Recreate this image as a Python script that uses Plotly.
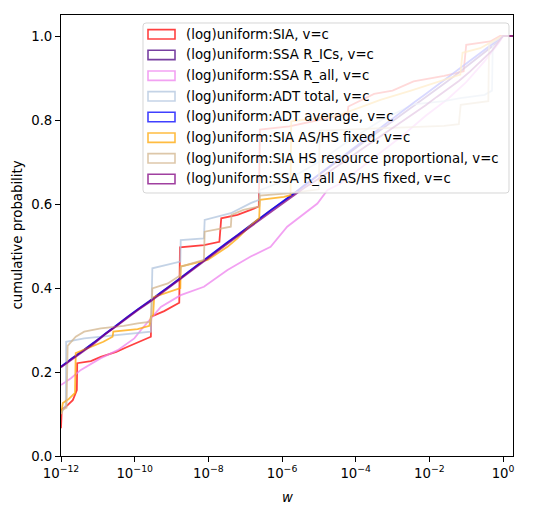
import plotly.graph_objects as go

# ---------------- data (log10 w, cumulative probability) ----------------
series_names = [
    "(log)uniform:SIA, v=c",
    "(log)uniform:SSA R_ICs, v=c",
    "(log)uniform:SSA R_all, v=c",
    "(log)uniform:ADT total, v=c",
    "(log)uniform:ADT average, v=c",
    "(log)uniform:SIA AS/HS fixed, v=c",
    "(log)uniform:SIA HS resource proportional, v=c",
    "(log)uniform:SSA R_all AS/HS fixed, v=c",
]
series_colors = ["#FF0000", "#4B0082", "#EE82EE", "#B0C4DE",
                 "#0000FF", "#FFA500", "#D2B48C", "#800080"]

sia_logw = [-12.0, -11.98, -11.82, -11.68, -11.6, -11.57, -11.56, -11.19, -10.92, -10.5, -10.19,
            -9.85, -9.56, -9.55, -9.2, -8.79, -8.77, -8.12, -7.7, -7.65, -7.21, -6.85, -6.63,
            -6.6, -5.8, -5.0, -4.4, -4.22, -4.2, -3.5, -3.0, -2.43, -1.6, -1.07, -1.0, -0.35,
            -0.08, 0.35]
sia_cdf = [0.066, 0.11, 0.121, 0.133, 0.15, 0.157, 0.221, 0.226, 0.236, 0.248, 0.26,
           0.272, 0.284, 0.332, 0.345, 0.365, 0.497, 0.502, 0.51, 0.566, 0.574, 0.586, 0.594,
           0.777, 0.785, 0.80, 0.812, 0.815, 0.832, 0.862, 0.87, 0.892, 0.905, 0.916, 0.979, 0.987,
           1.0, 1.0]

ssa_rics_logw = [-12.0, -11.7, -11.4, -11.1, -10.8, -10.5, -10.2, -9.9, -9.6, -9.3, -9.0, -8.7,
                 -8.4, -8.1, -7.8, -7.5, -7.2, -6.9, -6.6, -6.3, -6.0, -5.7, -5.4, -5.1, -4.8,
                 -4.5, -4.2, -3.9, -3.6, -3.3, -3.0, -2.7, -2.4, -2.1, -1.8, -1.5, -1.2, -0.9,
                 -0.6, -0.3, 0.0, 0.35]
ssa_rics_cdf = [0.212, 0.233, 0.251, 0.27, 0.29, 0.31, 0.331, 0.349, 0.369, 0.388, 0.408, 0.428,
                0.448, 0.468, 0.487, 0.507, 0.527, 0.547, 0.566, 0.586, 0.604, 0.624, 0.643, 0.663,
                0.682, 0.701, 0.72, 0.739, 0.758, 0.777, 0.796, 0.815, 0.835, 0.854, 0.874, 0.893,
                0.913, 0.933, 0.954, 0.975, 1.0, 1.0]

ssa_rall_logw = [-12.0, -11.73, -11.46, -10.92, -10.46, -10.01, -9.83, -9.29, -8.75, -8.12, -7.48,
                 -6.85, -6.31, -5.86, -5.04, -4.77, -4.41, -3.8, -3.3, -2.7, -2.1, -1.5, -1.0,
                 -0.5, -0.1, 0.0, 0.35]
ssa_rall_cdf = [0.169, 0.185, 0.205, 0.233, 0.252, 0.28, 0.30, 0.355, 0.383, 0.403, 0.443,
                0.475, 0.498, 0.546, 0.601, 0.633, 0.649, 0.69, 0.725, 0.765, 0.81, 0.85, 0.89,
                0.94, 0.985, 1.0, 1.0]

adt_total_logw = [-12.0, -11.95, -11.87, -11.86, -11.37, -10.46, -9.92, -9.56, -9.52, -8.79, -8.76,
                  -8.75, -8.12, -8.1, -7.39, -6.85, -6.62, -6.6, -5.8, -5.0, -4.2, -3.3, -2.43,
                  -1.6, -1.16, -0.5, -0.3, -0.28, 0.0, 0.35]
adt_total_cdf = [0.10, 0.11, 0.12, 0.272, 0.28, 0.288, 0.292, 0.296, 0.447, 0.463, 0.463,
                 0.514, 0.518, 0.562, 0.578, 0.602, 0.61, 0.633, 0.66, 0.70, 0.75, 0.80, 0.837,
                 0.845, 0.852, 0.86, 0.87, 0.98, 1.0, 1.0]

adt_avg_logw = [-12.0, -11.7, -11.4, -11.1, -10.8, -10.5, -10.2, -9.9, -9.6, -9.3, -9.0, -8.7,
                -8.4, -8.1, -7.8, -7.5, -7.2, -6.9, -6.6, -6.3, -6.0, -5.7, -5.4, -5.1, -4.8,
                -4.5, -4.2, -3.9, -3.6, -3.3, -3.0, -2.7, -2.4, -2.1, -1.8, -1.5, -1.2, -0.9,
                -0.6, -0.3, 0.0, 0.35]
adt_avg_cdf = [0.213, 0.232, 0.25, 0.27, 0.291, 0.311, 0.33, 0.35, 0.368, 0.389, 0.407, 0.427,
               0.449, 0.467, 0.488, 0.508, 0.526, 0.546, 0.565, 0.585, 0.605, 0.623, 0.645, 0.664,
               0.684, 0.703, 0.725, 0.744, 0.764, 0.784, 0.803, 0.823, 0.843, 0.862, 0.882, 0.902,
               0.921, 0.941, 0.961, 0.98, 1.0, 1.0]

sia_fixed_logw = [-12.0, -11.95, -11.8, -11.62, -11.6, -11.4, -11.1, -10.85, -10.6, -10.58, -9.92,
                  -9.6, -9.56, -9.5, -9.47, -8.76, -8.75, -8.3, -8.02, -7.48, -7.21, -6.9, -6.62,
                  -6.6, -5.95, -5.77, -5.75, -4.5, -3.33, -2.5, -1.6, -1.16, -1.1, -0.62, -0.13,
                  0.0, 0.35]
sia_fixed_cdf = [0.10, 0.126, 0.135, 0.15, 0.245, 0.252, 0.262, 0.272, 0.284, 0.296, 0.302,
                 0.31, 0.332, 0.335, 0.379, 0.40, 0.451, 0.46, 0.467, 0.498, 0.518, 0.545, 0.566,
                 0.61, 0.617, 0.621, 0.797, 0.81, 0.848, 0.87, 0.895, 0.908, 0.96, 0.971, 0.995,
                 1.0, 1.0]

sia_prop_logw = [-12.0, -11.95, -11.85, -11.82, -11.6, -11.37, -10.92, -10.3, -9.92, -9.56, -9.52,
                 -9.1, -8.77, -8.75, -8.4, -8.12, -8.1, -7.39, -7.37, -7.05, -6.62, -6.6, -5.77,
                 -5.4, -5.0, -4.98, -3.33, -1.6, -1.2, -1.15, -0.4, -0.38, 0.0, 0.35]
sia_prop_cdf = [0.10, 0.11, 0.115, 0.262, 0.284, 0.296, 0.304, 0.31, 0.316, 0.32, 0.399,
                0.411, 0.43, 0.451, 0.46, 0.467, 0.534, 0.546, 0.574, 0.586, 0.594, 0.62, 0.626,
                0.63, 0.635, 0.775, 0.781, 0.786, 0.79, 0.836, 0.845, 0.98, 1.0, 1.0]

ssa_rall_fixed_logw = [-12.0, -11.7, -11.4, -11.1, -10.8, -10.5, -10.2, -9.9, -9.6, -9.3, -9.0,
                       -8.7, -8.4, -8.1, -7.8, -7.5, -7.2, -6.9, -6.6, -6.3, -6.0, -5.7, -5.4,
                       -5.1, -4.8, -4.5, -4.2, -3.9, -3.6, -3.3, -3.0, -2.7, -2.4, -2.1, -1.8,
                       -1.5, -1.2, -0.9, -0.6, -0.3, -0.05, 0.0, 0.35]
ssa_rall_fixed_cdf = [0.211, 0.231, 0.249, 0.268, 0.29, 0.309, 0.329, 0.348, 0.366, 0.386, 0.405,
                      0.425, 0.446, 0.465, 0.486, 0.505, 0.524, 0.543, 0.562, 0.582, 0.6, 0.618,
                      0.638, 0.655, 0.672, 0.69, 0.708, 0.727, 0.745, 0.762, 0.78, 0.798, 0.816,
                      0.835, 0.855, 0.873, 0.893, 0.915, 0.94, 0.965, 0.995, 1.0, 1.0]

series_logw = [sia_logw, ssa_rics_logw, ssa_rall_logw, adt_total_logw,
               adt_avg_logw, sia_fixed_logw, sia_prop_logw, ssa_rall_fixed_logw]
series_cdf = [sia_cdf, ssa_rics_cdf, ssa_rall_cdf, adt_total_cdf,
              adt_avg_cdf, sia_fixed_cdf, sia_prop_cdf, ssa_rall_fixed_cdf]

x_tick_exponents = [-12, -10, -8, -6, -4, -2, 0]
y_tick_values = [0.0, 0.2, 0.4, 0.6, 0.8, 1.0]

# ---------------- layout geometry (screen pixels) ----------------
WIN_W, WIN_H = 534, 520
OFF = 8                       # default page body margin
W, H = WIN_W - OFF, WIN_H - OFF
L, R, T, B = 61, 513, 15, 456  # plot area in screen pixels
FONT = "DejaVu Sans"
FS = 13.3
ALPHA = 0.75


def px(xp):
    return (xp - L) / (R - L)


def py(yp):
    return (B - yp) / (B - T)


def rgba(hexc, a):
    hexc = hexc.lstrip("#")
    r, g, b = int(hexc[0:2], 16), int(hexc[2:4], 16), int(hexc[4:6], 16)
    return f"rgba({r},{g},{b},{a})"


fig = go.Figure()
for name, color, lw, cd in zip(series_names, series_colors, series_logw, series_cdf):
    fig.add_trace(go.Scatter(
        x=[10 ** v for v in lw], y=cd, mode="lines", name=name,
        line=dict(color=rgba(color, ALPHA), width=1.8),
        showlegend=False, hoverinfo="skip"))

# ---------------- manual matplotlib-like legend ----------------
shapes = []
annotations = []
bx0, bx1, by0, by1, rad = 143, 509, 23, 193, 3
rx, ry = rad / (R - L), rad / (B - T)
X0, X1, Y0, Y1 = px(bx0), px(bx1), py(by1), py(by0)
path = (f"M{X0+rx},{Y1} L{X1-rx},{Y1} Q{X1},{Y1} {X1},{Y1-ry} "
        f"L{X1},{Y0+ry} Q{X1},{Y0} {X1-rx},{Y0} L{X0+rx},{Y0} "
        f"Q{X0},{Y0} {X0},{Y0+ry} L{X0},{Y1-ry} Q{X0},{Y1} {X0+rx},{Y1} Z")
shapes.append(dict(type="path", xref="paper", yref="paper", path=path,
                   fillcolor="rgba(255,255,255,0.8)",
                   line=dict(color="rgba(204,204,204,0.8)", width=1), layer="above"))
row0, dy = 34.3, 20.67
for i, (name, color) in enumerate(zip(series_names, series_colors)):
    cy = row0 + i * dy
    shapes.append(dict(type="rect", xref="paper", yref="paper",
                       x0=px(148), x1=px(175), y0=py(cy + 4.7), y1=py(cy - 4.7),
                       line=dict(color=rgba(color, ALPHA), width=1.6),
                       fillcolor="rgba(0,0,0,0)", layer="above"))
    annotations.append(dict(text=name, xref="paper", yref="paper", x=px(184), y=py(cy),
                            xanchor="left", yanchor="middle", showarrow=False,
                            font=dict(family=FONT, size=FS, color="black")))

# axis titles
annotations.append(dict(text="cumulative probability", xref="paper", yref="paper",
                        x=px(17), y=py((T + B) / 2), textangle=-90, showarrow=False,
                        xanchor="center", yanchor="middle",
                        font=dict(family=FONT, size=FS, color="black")))
annotations.append(dict(text="<i>w</i>", xref="paper", yref="paper",
                        x=px((L + R) / 2), y=py(497), showarrow=False,
                        xanchor="center", yanchor="middle",
                        font=dict(family=FONT, size=FS, color="black")))

fig.update_layout(
    width=W, height=H,
    margin=dict(l=L - OFF, r=W - (R - OFF), t=T - OFF, b=H - (B - OFF), pad=0),
    paper_bgcolor="white", plot_bgcolor="white",
    font=dict(family=FONT, size=FS, color="black"),
    shapes=shapes, annotations=annotations, showlegend=False,
)
fig.update_xaxes(
    type="log", range=[-12, 0.27], showgrid=False, zeroline=False,
    showline=True, linecolor="black", linewidth=1, mirror=True,
    ticks="outside", ticklen=5, tickwidth=1, tickcolor="black",
    tickvals=[10 ** e for e in x_tick_exponents],
    ticktext=[f"10<sup>{'−' if e < 0 else ''}{abs(e)}</sup>" for e in x_tick_exponents],
    tickfont=dict(family=FONT, size=FS, color="black"),
)
fig.update_yaxes(
    range=[0, 1.05], showgrid=False, zeroline=False,
    showline=True, linecolor="black", linewidth=1, mirror=True,
    ticks="outside", ticklen=5, tickwidth=1, tickcolor="black",
    tickvals=y_tick_values, ticktext=[f"{v:.1f}" for v in y_tick_values],
    tickfont=dict(family=FONT, size=FS, color="black"),
)

fig.write_html("out.html")
